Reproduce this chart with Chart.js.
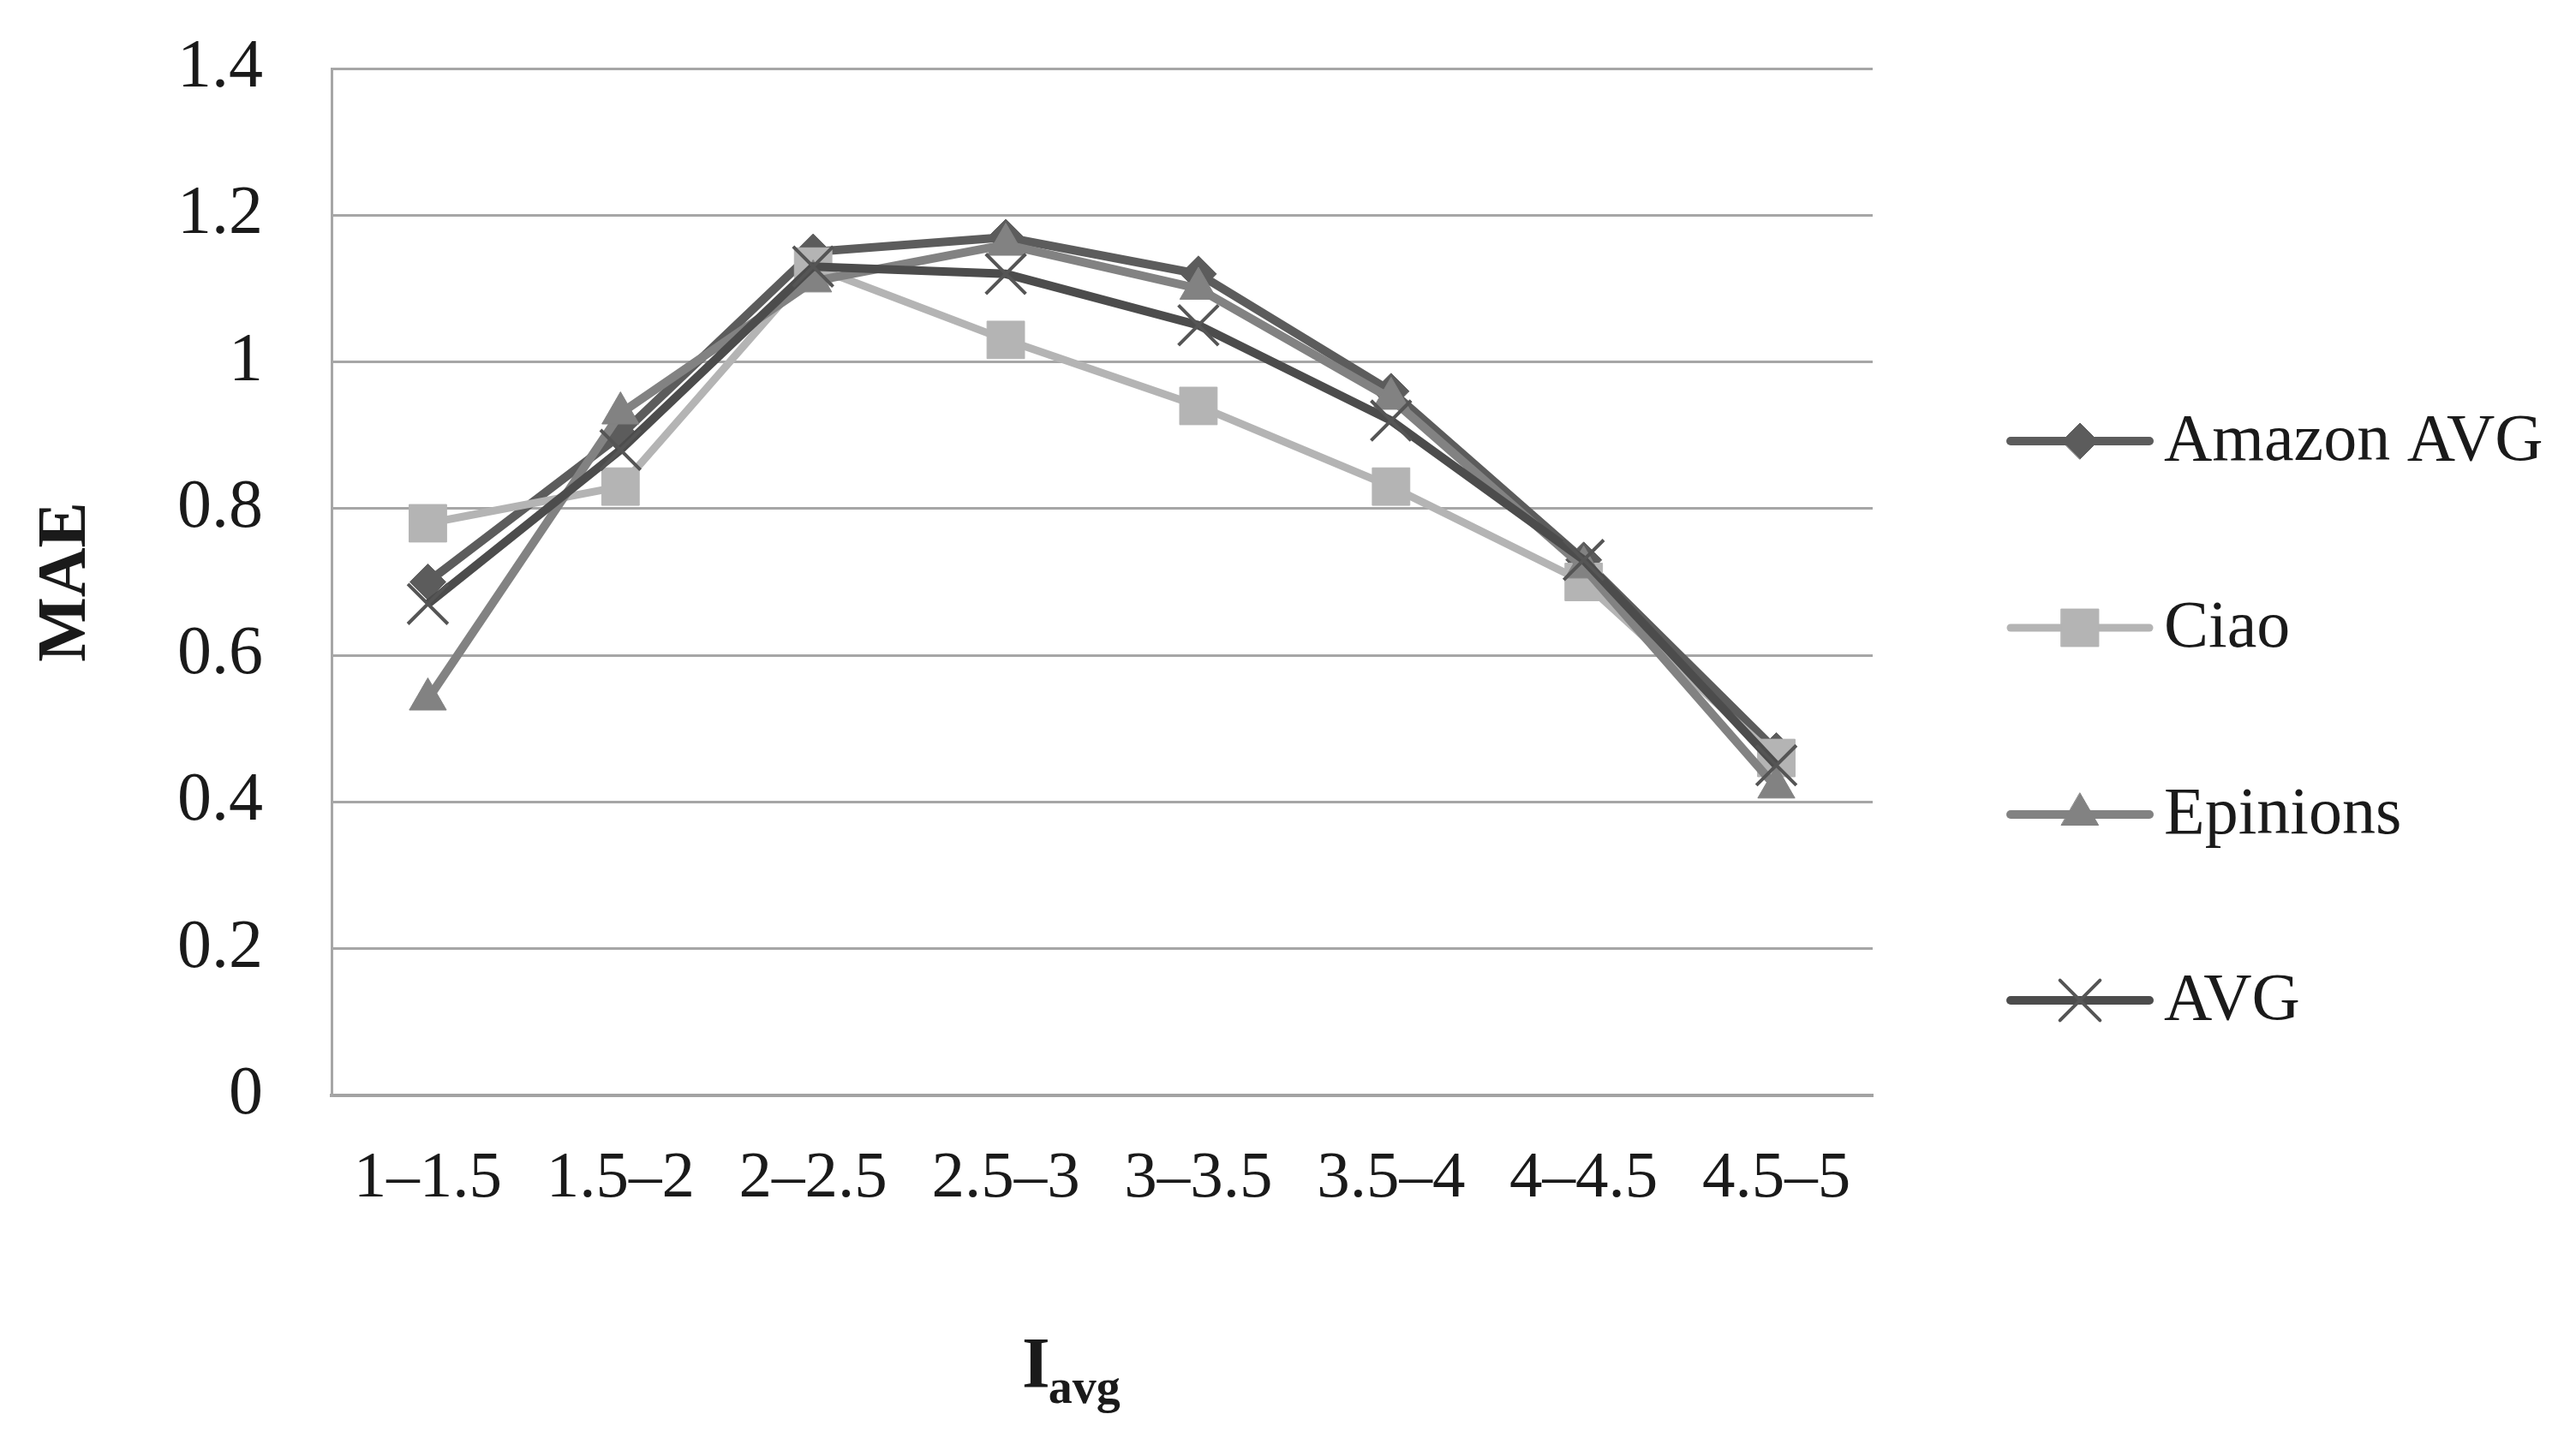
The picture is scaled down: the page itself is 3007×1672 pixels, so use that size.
<!DOCTYPE html>
<html>
<head>
<meta charset="utf-8">
<script src="https://cdn.jsdelivr.net/npm/chart.js@4.4.1/dist/chart.umd.min.js"></script>
<style>
  html, body { margin: 0; padding: 0; background: #ffffff; }
  #wrap { width: 3007px; height: 1672px; }
</style>
</head>
<body>
<div id="wrap"><canvas id="c" width="3007" height="1672"></canvas></div>
<script>
// ---- data ----
const categories = ['1–1.5', '1.5–2', '2–2.5', '2.5–3', '3–3.5', '3.5–4', '4–4.5', '4.5–5'];
const seriesNames = ['Amazon AVG', 'Ciao', 'Epinions', 'AVG'];
const amazonAvg = [0.70, 0.90, 1.15, 1.17, 1.12, 0.96, 0.73, 0.47];
const ciao      = [0.78, 0.83, 1.13, 1.03, 0.94, 0.83, 0.70, 0.46];
const epinions  = [0.54, 0.93, 1.11, 1.16, 1.10, 0.95, 0.72, 0.42];
const avg       = [0.67, 0.88, 1.13, 1.12, 1.05, 0.92, 0.73, 0.45];
const yTicks = [0, 0.2, 0.4, 0.6, 0.8, 1, 1.2, 1.4];
const yTitle = 'MAE';
const xTitleMain = 'I';
const xTitleSub = 'avg';

const FONT = "'Liberation Serif', 'Times New Roman', serif";

const styles = [
  { color: '#5c5c5c', width: 10, point: 'rectRot', radius: 21, pbw: 1, pbc: '#5c5c5c', order: 4 },
  { color: '#b4b4b4', width: 9, point: 'rect', radius: 31, pbw: 1, pbc: '#b4b4b4', order: 3 },
  { color: '#828282', width: 10, point: 'triangle', radius: 25, pbw: 1, pbc: '#828282', order: 2 },
  { color: '#4c4c4c', width: 10, point: 'crossRot', radius: 33, pbw: 4, pbc: '#555555', order: 1 }
];
const values = [amazonAvg, ciao, epinions, avg];

const datasets = values.map((v, i) => ({
  label: seriesNames[i],
  data: v,
  borderColor: styles[i].color,
  backgroundColor: styles[i].color,
  borderWidth: styles[i].width,
  pointStyle: styles[i].point,
  pointRadius: styles[i].radius,
  pointHoverRadius: styles[i].radius,
  pointBackgroundColor: styles[i].color,
  pointBorderColor: styles[i].pbc,
  pointBorderWidth: styles[i].pbw,
  tension: 0,
  fill: false,
  order: styles[i].order,
  clip: false
}));

function drawMarker(ctx, st, x, y) {
  const opts = { pointStyle: st.point, radius: st.radius, rotation: 0, borderWidth: st.pbw };
  ctx.save();
  ctx.fillStyle = st.color;
  ctx.strokeStyle = st.pbc;
  ctx.lineWidth = st.pbw;
  if (Chart.helpers && Chart.helpers.drawPoint) {
    Chart.helpers.drawPoint(ctx, opts, x, y);
  }
  ctx.restore();
}

const legendPlugin = {
  id: 'customLegend',
  afterDraw(chart) {
    const ctx = chart.ctx;
    const ys = [515, 733, 951, 1168];
    const x1 = 2347, x2 = 2509, xm = 2428, xt = 2526;
    ctx.save();
    seriesNames.forEach((name, i) => {
      const st = styles[i];
      ctx.beginPath();
      ctx.strokeStyle = st.color;
      ctx.lineWidth = st.width;
      ctx.lineCap = 'round';
      ctx.moveTo(x1, ys[i]);
      ctx.lineTo(x2, ys[i]);
      ctx.stroke();
      drawMarker(ctx, st, xm, ys[i]);
      ctx.fillStyle = '#1a1a1a';
      ctx.font = '78px ' + FONT;
      ctx.textAlign = 'left';
      ctx.textBaseline = 'middle';
      ctx.fillText(name, xt, ys[i] + 2);
    });
    ctx.restore();
  }
};

const xTitlePlugin = {
  id: 'xTitle',
  afterDraw(chart) {
    const ctx = chart.ctx;
    ctx.save();
    ctx.fillStyle = '#1a1a1a';
    ctx.textBaseline = 'alphabetic';
    ctx.textAlign = 'left';
    ctx.font = 'bold 84px ' + FONT;
    const x0 = 1193;
    ctx.fillText(xTitleMain, x0, 1620);
    const w = ctx.measureText(xTitleMain).width;
    ctx.font = 'bold 56px ' + FONT;
    ctx.fillText(xTitleSub, x0 + w - 2, 1638);
    ctx.restore();
  }
};

const bgPlugin = {
  id: 'bg',
  beforeDraw(chart) {
    const ctx = chart.ctx;
    ctx.save();
    ctx.fillStyle = '#ffffff';
    ctx.fillRect(0, 0, chart.width, chart.height);
    ctx.restore();
  }
};

new Chart(document.getElementById('c'), {
  type: 'line',
  data: { labels: categories, datasets: datasets },
  options: {
    responsive: false,
    animation: false,
    devicePixelRatio: 1,
    layout: { padding: { left: 0, right: 821, top: 80, bottom: 0 } },
    plugins: {
      legend: { display: false },
      tooltip: { enabled: false },
      title: { display: false }
    },
    scales: {
      x: {
        type: 'category',
        offset: true,
        grid: { display: false, drawTicks: false },
        border: { display: true, color: '#a3a3a3', width: 4 },
        ticks: {
          color: '#1a1a1a',
          padding: 52,
          font: { family: FONT, size: 77 },
          maxRotation: 0,
          autoSkip: false
        },
        afterFit(scale) { scale.height = 393; }
      },
      y: {
        min: 0,
        max: 1.4,
        afterBuildTicks(scale) { scale.ticks = yTicks.map(v => ({ value: v })); },
        grid: { color: '#a6a6a6', lineWidth: 3, drawTicks: false },
        border: { display: true, color: '#a6a6a6', width: 3 },
        ticks: {
          color: '#1a1a1a',
          padding: 80,
          font: { family: FONT, size: 80 },
          callback: (v) => String(Number(Number(v).toFixed(1)))
        },
        title: {
          display: true,
          text: yTitle,
          color: '#1a1a1a',
          font: { family: FONT, size: 80, weight: 'bold' },
          padding: { top: 30, bottom: 0 }
        },
        afterFit(scale) {
          scale.width = 387;
          scale.paddingTop = 0;
          scale.paddingBottom = 0;
        }
      }
    }
  },
  plugins: [bgPlugin, legendPlugin, xTitlePlugin]
});
</script>
</body>
</html>
